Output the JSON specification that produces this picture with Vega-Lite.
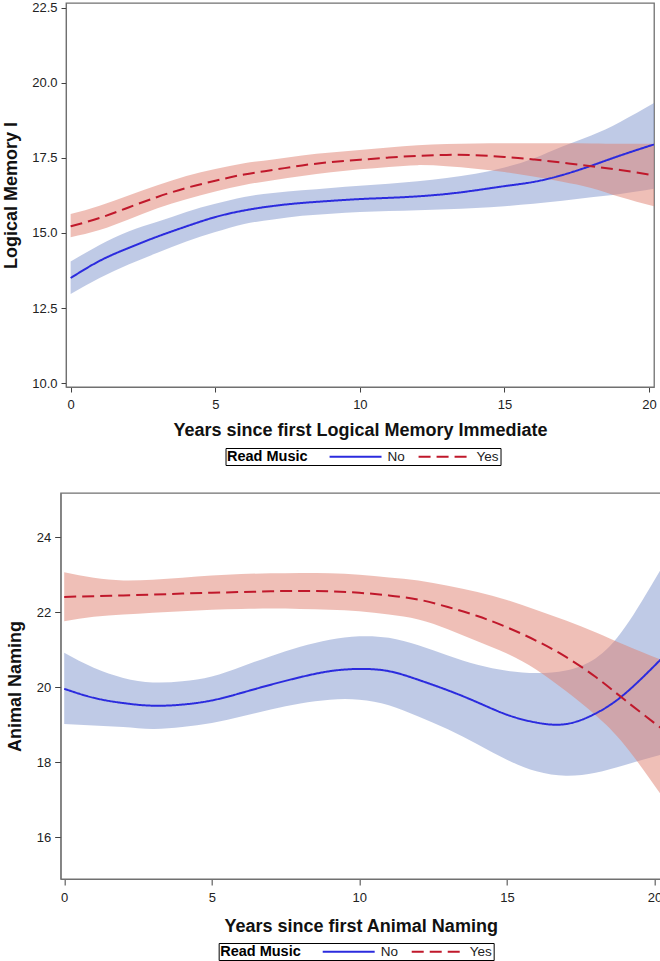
{
  "$schema": "https://vega.github.io/schema/vega-lite/v6.json",
  "padding": {"left": 1.5, "top": 1, "right": 0, "bottom": 0},
  "spacing": 25,
  "center": true,
  "config": {
    "font": "Liberation Sans",
    "view": {"stroke": "#707070", "strokeWidth": 1.3},
    "axis": {
      "grid": false, "domainColor": "#707070", "tickColor": "#404040",
      "labelColor": "#222222", "titleColor": "#111111", "labelFontSize": 13,
      "titleFontSize": 18, "titleFontWeight": "bold", "tickSize": 5, "labelPadding": 6,
      "labelFont": "Liberation Sans", "titleFont": "Liberation Sans"
    },
    "legend": {
      "symbolType": "M-1,0H9", "symbolSize": 108, "symbolStrokeWidth": 2,
      "labelFontSize": 13.5, "titleFontSize": 14.5, "titleFontWeight": "bold",
      "titleColor": "#000000", "labelColor": "#222222", "strokeColor": "#000000",
      "padding": 1.5, "titlePadding": 20, "labelOffset": 46, "columnPadding": 9,
      "labelFont": "Liberation Sans", "titleFont": "Liberation Sans"
    }
  },
  "resolve": {"scale": {"color": "independent", "strokeDash": "independent"}, "legend": {"color": "independent", "strokeDash": "independent"}},
  "vconcat": [
    {
      "width": 588, "height": 384,
      "data": {"values": [
        {"x":0,"g":"No","y":13.5,"lo":12.97,"hi":14.05},
        {"x":1,"g":"No","y":14.07,"lo":13.5,"hi":14.6},
        {"x":2,"g":"No","y":14.5,"lo":13.95,"hi":15.05},
        {"x":3,"g":"No","y":14.88,"lo":14.34,"hi":15.37},
        {"x":4,"g":"No","y":15.22,"lo":14.72,"hi":15.7},
        {"x":5,"g":"No","y":15.53,"lo":15.03,"hi":15.97},
        {"x":6,"g":"No","y":15.75,"lo":15.3,"hi":16.2},
        {"x":7,"g":"No","y":15.9,"lo":15.45,"hi":16.33},
        {"x":8,"g":"No","y":16.0,"lo":15.57,"hi":16.42},
        {"x":9,"g":"No","y":16.07,"lo":15.64,"hi":16.5},
        {"x":10,"g":"No","y":16.13,"lo":15.7,"hi":16.57},
        {"x":11,"g":"No","y":16.17,"lo":15.73,"hi":16.64},
        {"x":12,"g":"No","y":16.22,"lo":15.76,"hi":16.72},
        {"x":13,"g":"No","y":16.3,"lo":15.79,"hi":16.83},
        {"x":14,"g":"No","y":16.42,"lo":15.83,"hi":16.97},
        {"x":15,"g":"No","y":16.56,"lo":15.89,"hi":17.18},
        {"x":16,"g":"No","y":16.7,"lo":15.97,"hi":17.48},
        {"x":17,"g":"No","y":16.93,"lo":16.07,"hi":17.88},
        {"x":18,"g":"No","y":17.24,"lo":16.19,"hi":18.25},
        {"x":19,"g":"No","y":17.58,"lo":16.3,"hi":18.7},
        {"x":20.17,"g":"No","y":17.95,"lo":16.47,"hi":19.33},
        {"x":0,"g":"Yes","y":15.22,"lo":14.86,"hi":15.63},
        {"x":1,"g":"Yes","y":15.5,"lo":15.1,"hi":15.91},
        {"x":2,"g":"Yes","y":15.85,"lo":15.45,"hi":16.25},
        {"x":3,"g":"Yes","y":16.2,"lo":15.82,"hi":16.59},
        {"x":4,"g":"Yes","y":16.5,"lo":16.12,"hi":16.9},
        {"x":5,"g":"Yes","y":16.74,"lo":16.38,"hi":17.13},
        {"x":6,"g":"Yes","y":16.95,"lo":16.6,"hi":17.32},
        {"x":7,"g":"Yes","y":17.1,"lo":16.76,"hi":17.45},
        {"x":8,"g":"Yes","y":17.25,"lo":16.9,"hi":17.58},
        {"x":9,"g":"Yes","y":17.36,"lo":17.02,"hi":17.68},
        {"x":10,"g":"Yes","y":17.44,"lo":17.12,"hi":17.76},
        {"x":11,"g":"Yes","y":17.51,"lo":17.2,"hi":17.85},
        {"x":12,"g":"Yes","y":17.57,"lo":17.26,"hi":17.92},
        {"x":13,"g":"Yes","y":17.6,"lo":17.22,"hi":17.96},
        {"x":14,"g":"Yes","y":17.59,"lo":17.14,"hi":17.98},
        {"x":15,"g":"Yes","y":17.53,"lo":17.03,"hi":17.99},
        {"x":16,"g":"Yes","y":17.45,"lo":16.88,"hi":17.99},
        {"x":17,"g":"Yes","y":17.34,"lo":16.71,"hi":17.99},
        {"x":18,"g":"Yes","y":17.22,"lo":16.5,"hi":17.98},
        {"x":19,"g":"Yes","y":17.1,"lo":16.2,"hi":17.97},
        {"x":20.17,"g":"Yes","y":16.92,"lo":15.89,"hi":17.97}
      ]},
      "encoding": {
        "x": {"field": "x", "type": "quantitative",
              "scale": {"domain": [-0.16, 20.17], "nice": false, "zero": false},
              "axis": {"title": "Years since first Logical Memory Immediate", "values": [0,5,10,15,20], "titlePadding": 10}},
        "y": {"field": "lo", "type": "quantitative",
              "scale": {"domain": [9.87, 22.66], "nice": false, "zero": false},
              "axis": {"title": "Logical Memory I", "values": [10,12.5,15,17.5,20,22.5], "format": ".1f", "titlePadding": 11.5, "labelPadding": 4}}
      },
      "layer": [
        {
          "transform": [{"filter": "datum.g == 'No'"}],
          "mark": {"type": "area", "color": "#7F95CD", "opacity": 0.5, "clip": true, "interpolate": "natural"},
          "encoding": {"y2": {"field": "hi"}}
        },
        {
          "transform": [{"filter": "datum.g == 'Yes'"}],
          "mark": {"type": "area", "color": "#E07F6F", "opacity": 0.5, "clip": true, "interpolate": "natural"},
          "encoding": {"y2": {"field": "hi"}}
        },
        {
          "mark": {"type": "line", "strokeWidth": 2, "clip": true, "interpolate": "natural"},
          "encoding": {
            "y": {"field": "y", "type": "quantitative"},
            "color": {"field": "g", "type": "nominal", "scale": {"domain": ["No","Yes"], "range": ["#2B2BDE","#C0182B"]},
                      "legend": {"title": "Read Music", "orient": "none", "legendX": 159.5, "legendY": 445, "direction": "horizontal", "titleOrient": "left"}},
            "strokeDash": {"field": "g", "type": "nominal", "scale": {"domain": ["No","Yes"], "range": [[1,0],[12,6]]},
                      "legend": {"title": "Read Music", "orient": "none", "legendX": 159.5, "legendY": 445, "direction": "horizontal", "titleOrient": "left"}}
          }
        }
      ]
    },
    {
      "width": 600, "height": 386,
      "data": {"values": [
        {"x":0,"g":"No","y":19.96,"lo":19.02,"hi":20.92},
        {"x":1,"g":"No","y":19.72,"lo":18.98,"hi":20.52},
        {"x":2,"g":"No","y":19.58,"lo":18.94,"hi":20.25},
        {"x":3,"g":"No","y":19.51,"lo":18.89,"hi":20.13},
        {"x":4,"g":"No","y":19.54,"lo":18.94,"hi":20.16},
        {"x":5,"g":"No","y":19.65,"lo":19.05,"hi":20.29},
        {"x":6,"g":"No","y":19.85,"lo":19.22,"hi":20.55},
        {"x":7,"g":"No","y":20.07,"lo":19.41,"hi":20.83},
        {"x":8,"g":"No","y":20.27,"lo":19.57,"hi":21.08},
        {"x":9,"g":"No","y":20.43,"lo":19.67,"hi":21.27},
        {"x":10,"g":"No","y":20.49,"lo":19.67,"hi":21.36},
        {"x":11,"g":"No","y":20.43,"lo":19.52,"hi":21.32},
        {"x":12,"g":"No","y":20.2,"lo":19.22,"hi":21.12},
        {"x":13,"g":"No","y":19.92,"lo":18.88,"hi":20.85},
        {"x":14,"g":"No","y":19.6,"lo":18.48,"hi":20.6},
        {"x":15,"g":"No","y":19.27,"lo":18.07,"hi":20.44},
        {"x":16,"g":"No","y":19.06,"lo":17.76,"hi":20.38},
        {"x":17,"g":"No","y":19.02,"lo":17.64,"hi":20.45},
        {"x":18,"g":"No","y":19.3,"lo":17.72,"hi":20.77},
        {"x":19,"g":"No","y":19.83,"lo":17.93,"hi":21.6},
        {"x":20.21,"g":"No","y":20.74,"lo":18.2,"hi":23.14},
        {"x":0,"g":"Yes","y":22.41,"lo":21.76,"hi":23.07},
        {"x":1,"g":"Yes","y":22.43,"lo":21.88,"hi":22.92},
        {"x":2,"g":"Yes","y":22.45,"lo":21.94,"hi":22.85},
        {"x":3,"g":"Yes","y":22.47,"lo":21.99,"hi":22.87},
        {"x":4,"g":"Yes","y":22.5,"lo":22.03,"hi":22.92},
        {"x":5,"g":"Yes","y":22.52,"lo":22.07,"hi":22.98},
        {"x":6,"g":"Yes","y":22.54,"lo":22.09,"hi":23.02},
        {"x":7,"g":"Yes","y":22.56,"lo":22.1,"hi":23.04},
        {"x":8,"g":"Yes","y":22.57,"lo":22.09,"hi":23.05},
        {"x":9,"g":"Yes","y":22.56,"lo":22.07,"hi":23.04},
        {"x":10,"g":"Yes","y":22.52,"lo":22.03,"hi":23.0},
        {"x":11,"g":"Yes","y":22.45,"lo":21.94,"hi":22.93},
        {"x":12,"g":"Yes","y":22.34,"lo":21.81,"hi":22.85},
        {"x":13,"g":"Yes","y":22.14,"lo":21.55,"hi":22.71},
        {"x":14,"g":"Yes","y":21.9,"lo":21.23,"hi":22.54},
        {"x":15,"g":"Yes","y":21.6,"lo":20.9,"hi":22.33},
        {"x":16,"g":"Yes","y":21.24,"lo":20.47,"hi":22.06},
        {"x":17,"g":"Yes","y":20.81,"lo":19.9,"hi":21.78},
        {"x":18,"g":"Yes","y":20.28,"lo":19.26,"hi":21.47},
        {"x":19,"g":"Yes","y":19.66,"lo":18.45,"hi":21.13},
        {"x":20.21,"g":"Yes","y":18.92,"lo":17.15,"hi":20.74}
      ]},
      "encoding": {
        "x": {"field": "x", "type": "quantitative",
              "scale": {"domain": [-0.12, 20.21], "nice": false, "zero": false},
              "axis": {"title": "Years since first Animal Naming", "values": [0,5,10,15,20], "titlePadding": 13, "tickSize": 6}},
        "y": {"field": "lo", "type": "quantitative",
              "scale": {"domain": [14.89, 25.18], "nice": false, "zero": false},
              "axis": {"title": "Animal Naming", "values": [16,18,20,22,24], "titlePadding": 11.5, "tickSize": 6, "labelPadding": 4}}
      },
      "layer": [
        {
          "transform": [{"filter": "datum.g == 'No'"}],
          "mark": {"type": "area", "color": "#7F95CD", "opacity": 0.5, "clip": true, "interpolate": "natural"},
          "encoding": {"y2": {"field": "hi"}}
        },
        {
          "transform": [{"filter": "datum.g == 'Yes'"}],
          "mark": {"type": "area", "color": "#E07F6F", "opacity": 0.5, "clip": true, "interpolate": "natural"},
          "encoding": {"y2": {"field": "hi"}}
        },
        {
          "mark": {"type": "line", "strokeWidth": 2, "clip": true, "interpolate": "natural"},
          "encoding": {
            "y": {"field": "y", "type": "quantitative"},
            "color": {"field": "g", "type": "nominal", "scale": {"domain": ["No","Yes"], "range": ["#2B2BDE","#C0182B"]},
                      "legend": {"title": "Read Music", "orient": "none", "legendX": 158, "legendY": 450, "direction": "horizontal", "titleOrient": "left"}},
            "strokeDash": {"field": "g", "type": "nominal", "scale": {"domain": ["No","Yes"], "range": [[1,0],[12,6]]},
                      "legend": {"title": "Read Music", "orient": "none", "legendX": 158, "legendY": 450, "direction": "horizontal", "titleOrient": "left"}}
          }
        }
      ]
    }
  ]
}
